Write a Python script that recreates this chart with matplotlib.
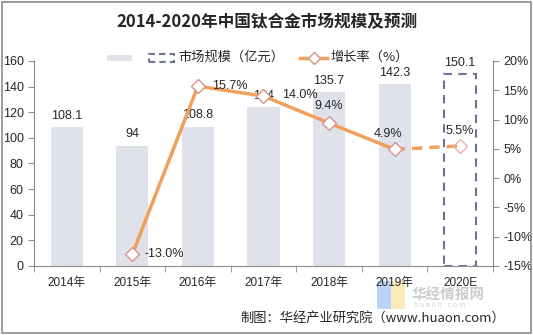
import matplotlib
matplotlib.use("Agg")
import matplotlib.pyplot as plt
from matplotlib.patches import Rectangle
from matplotlib.lines import Line2D
import numpy as np

plt.rcParams['font.family'] = ['Liberation Sans', 'Noto Sans CJK SC', 'DejaVu Sans']

years = ['2014年', '2015年', '2016年', '2017年', '2018年', '2019年', '2020E']
market = [108.1, 94, 108.8, 124, 135.7, 142.3, 150.1]
market_labels = ['108.1', '94', '108.8', '124', '135.7', '142.3', '150.1']
growth = [None, -13.0, 15.7, 14.0, 9.4, 4.9, 5.5]
left_ticks = [0, 20, 40, 60, 80, 100, 120, 140, 160]
right_ticks = [-15, -10, -5, 0, 5, 10, 15, 20]

bar_color = '#dfe2ea'
line_color = '#f0a05c'
edge_marker = '#d9918a'
dash_color = '#6b7396'
txt = '#262626'

fig = plt.figure(figsize=(5.33, 3.35), dpi=100)
fig.patch.set_facecolor('white')
fig.patches.append(Rectangle((0.004, 0.006), 0.992, 0.988, transform=fig.transFigure,
                             fill=False, edgecolor='#8c8c8c', lw=1.2))

# watermark (behind the axes)
fig.patches.append(Rectangle((377/533, 1 - 309/335), 14/533, 28/335, transform=fig.transFigure,
                             facecolor='#a9c8f5', edgecolor='none', alpha=0.8, zorder=-2))
fig.patches.append(Rectangle((391/533, 1 - 309/335), 14/533, 28/335, transform=fig.transFigure,
                             facecolor='#fbe7a6', edgecolor='none', alpha=0.8, zorder=-2))
fig.text(412/533, 1 - 294/335, '华经情报网', ha='left', va='center', fontsize=10.5,
         fontweight='bold', color='#cccccc', family=['Noto Sans CJK SC', 'DejaVu Sans'],
         zorder=-1)
fig.text(414/533, 1 - 305.5/335, 'h u a o n . c o m', ha='left', va='center', fontsize=5,
         color='#d0d0d0', zorder=-1)

ax = fig.add_axes([0.0638, 0.206, 0.861, 0.612])
ax2 = ax.twinx()

x = np.arange(len(years))
n = len(years)
ax.bar(x[:n-1], market[:n-1], width=0.49, color=bar_color, zorder=1)
ax.bar(x[n-1], market[n-1], width=0.49, facecolor='none', edgecolor=dash_color,
       linestyle=(0, (4, 3)), lw=1.5, zorder=1)
for i in range(n):
    ax.text(x[i], market[i] + 4, market_labels[i], ha='center', va='bottom',
            fontsize=9, color=txt)

ax.set_xlim(-0.5, n - 0.5)
ax.set_ylim(0, 160)
ax.set_yticks(left_ticks)
ax.set_xticks(x)
ax.set_xticklabels(years)
ax.set_xticks(np.arange(-0.5, n, 1), minor=True)
ax.tick_params(axis='x', which='major', length=0, labelsize=8.5, colors=txt, pad=8)
ax.tick_params(axis='x', which='minor', length=4, color='#8c8c8c', direction='out')
ax.tick_params(axis='y', labelsize=9, colors=txt, length=4, color='#8c8c8c')
for s in ['top', 'right']:
    ax.spines[s].set_visible(False)
for s in ['left', 'bottom']:
    ax.spines[s].set_color('#8c8c8c')

gx = x[1:n-1]
gy = growth[1:n-1]
ax2.plot(gx, gy, color=line_color, lw=2.5, zorder=3)
ax2.plot(x[n-2:], growth[n-2:], color=line_color, lw=2.5, linestyle=(0, (3, 2)), zorder=3)
ax2.plot(gx, gy, linestyle='none', marker='D', markersize=7, markerfacecolor='white',
         markeredgecolor=edge_marker, markeredgewidth=1, zorder=4)
ax2.plot([x[n-1]], [growth[n-1]], linestyle='none', marker='D', markersize=7,
         markerfacecolor='none', markeredgecolor='#eab1aa', markeredgewidth=1,
         zorder=4)
ax2.set_ylim(-15, 20)
ax2.set_yticks(right_ticks)
ax2.set_yticklabels([f'{v}%' for v in right_ticks])
ax2.tick_params(axis='y', labelsize=9, colors=txt, length=4, color='#8c8c8c')
for s in ['top', 'left', 'bottom']:
    ax2.spines[s].set_visible(False)
ax2.spines['right'].set_color('#8c8c8c')

offsets = {1: (0.18, 0, 'left', 'center'), 2: (0.22, 0.0, 'left', 'center'),
           3: (0.28, 0.2, 'left', 'center'), 4: (0.0, 1.9, 'center', 'bottom'),
           5: (-0.1, 1.6, 'center', 'bottom'), 6: (0.0, 1.5, 'center', 'bottom')}
for i in range(1, n):
    dx, dy, ha, va = offsets[i]
    ax2.text(x[i] + dx, growth[i] + dy, f'{growth[i]:.1f}%', ha=ha, va=va,
             fontsize=9, color=txt, zorder=5)

fig.text(0.5, 0.935, '2014-2020年中国钛合金市场规模及预测', ha='center', va='center',
         fontsize=12, fontweight='bold', color='#262626',
         family=['Noto Sans CJK SC', 'DejaVu Sans'])

# legend
fig.patches.append(Rectangle((107/533, 1 - 61/335), 25/533, 6/335, transform=fig.transFigure,
                             facecolor=bar_color, edgecolor='none'))
fig.patches.append(Rectangle((149/533, 1 - 62/335), 25/533, 8/335, transform=fig.transFigure,
                             facecolor='none', edgecolor=dash_color, lw=1.5,
                             linestyle=(0, (3, 2))))
fig.text(178/533, 1 - 57/335, '市场规模（亿元）', ha='left', va='center', fontsize=9.5,
         color=txt, family=['Noto Sans CJK SC', 'DejaVu Sans'])
fig.lines.append(Line2D([300/533, 327/533], [1 - 58/335, 1 - 58/335], transform=fig.transFigure,
                        color=line_color, lw=2.5))
fig.lines.append(Line2D([313.5/533], [1 - 58/335], transform=fig.transFigure,
                        marker='D', markersize=6, markerfacecolor='white',
                        markeredgecolor=edge_marker, markeredgewidth=1, linestyle='none'))
fig.text(330/533, 1 - 57/335, '增长率（%）', ha='left', va='center', fontsize=9.5,
         color=txt, family=['Noto Sans CJK SC', 'DejaVu Sans'])

fig.text(505/533, 1 - 318/335, '制图：华经产业研究院（www.huaon.com）', ha='right', va='center',
         fontsize=9.5, color=txt, family=['Noto Sans CJK SC', 'DejaVu Sans'])

fig.savefig('out.png', dpi=100, facecolor='white')
